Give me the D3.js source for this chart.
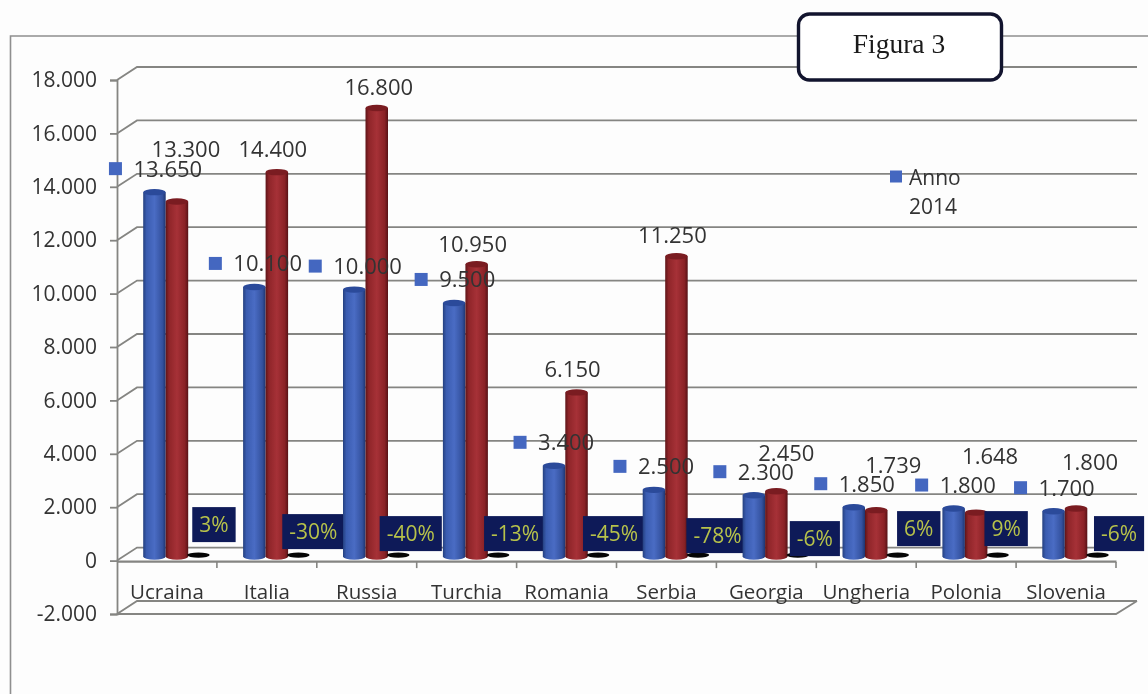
<!DOCTYPE html>
<html><head><meta charset="utf-8">
<script src="https://cdn.jsdelivr.net/npm/d3@7"></script>
<style>
html,body{margin:0;padding:0;background:#fdfdfd;overflow:hidden}
svg{display:block;filter:blur(0.5px)}
</style></head><body>
<script>
// ---- data ----
const categories = ["Ucraina","Italia","Russia","Turchia","Romania","Serbia","Georgia","Ungheria","Polonia","Slovenia"];
const anno2014 = [13650,10100,10000,9500,3400,2500,2300,1850,1800,1700];
const anno2013 = [13300,14400,16800,10950,6150,11250,2450,1739,1648,1800];
const variazione = [3,-30,-40,-13,-45,-78,-6,6,9,-6];
const yTicks = [-2000,0,2000,4000,6000,8000,10000,12000,14000,16000,18000];

// ---- label placement (offsets from the marks) ----
const blueDx = [-39,-39,-39,-33,-34,-34,-34,-33,-32,-33];
const redDx = [9,-4,2,-4,-4,-4,10,17,14,14];
const redDy = [-52,-23,-21,-20,-23,-21,-38,-45,-57,-46];
const boxDx = [14.5,14,11.5,16,15,18.5,16,20,7.5,20.5];
const boxDy = [-36,-29,-27,-27,-27,-25,-22,-32,-32,-27];

const W=1148,H=694, depthX=20, depthY=-13, grid="#858582", ink="#333333";
const font="'Open Sans',sans-serif";
const fmt = v => (v<0?"-":"")+d3.format(",")(Math.abs(v)).replace(/,/g,".");

const svg=d3.select("body").append("svg").attr("width",W).attr("height",H);
const defs=svg.append("defs");
function grad(id,stops){
  const g=defs.append("linearGradient").attr("id",id);
  stops.forEach(([o,c])=>g.append("stop").attr("offset",o).attr("stop-color",c));
}
grad("gBlue",[[0,"#24407f"],[.15,"#3a5cb0"],[.5,"#4a6cc4"],[.85,"#34529f"],[1,"#1f3570"]]);
grad("gRed",[[0,"#5e1418"],[.15,"#8f2529"],[.5,"#a63137"],[.85,"#8a2226"],[1,"#571216"]]);

svg.append("rect").attr("width",W).attr("height",H).attr("fill","#fdfdfd");

// outer frame
svg.append("path").attr("d",`M10.5,${H} V36 H${W}`).attr("fill","none").attr("stroke","#8f8f8f").attr("stroke-width",1.6);

// scales
const y=d3.scaleLinear().domain([-2000,18000]).range([614,80]);
const x=d3.scaleBand().domain(categories).range([117,1116]);
const xOff=16.2;
const inner=d3.scaleBand().domain(["a","b","c"]).range([10,77.5]);
const barBase=-4;
const bw=inner.bandwidth();
const yTop=v=>y(v)+barBase;
const cx=(c,s)=>x(c)+xOff+inner(s)+bw/2;

// walls / gridlines
const axisLeft=x.range()[0], axisRight=x.range()[1];
const g=svg.append("g").attr("fill","none").attr("stroke",grid);
g.selectAll("path.grid").data(yTicks).join("path").attr("class","grid")
  .attr("stroke-width",1.8)
  .attr("d",v=>`M${axisLeft},${y(v)} L${axisLeft+depthX},${y(v)+depthY} H${axisRight+depthX+1}`);
// floor
g.append("path").attr("stroke-width",1.8)
  .attr("d",`M${axisLeft},${y(-2000)} H${axisRight} L${axisRight+depthX+1},${y(-2000)+depthY}`);
// y axis
const ya=d3.axisLeft(y).tickValues(yTicks).tickFormat(fmt).tickSize(7).tickPadding(13);
const yg=svg.append("g").attr("transform",`translate(${axisLeft},0)`).call(ya);
yg.select(".domain").attr("stroke",grid).attr("stroke-width",1.8);
yg.selectAll("line").attr("stroke",grid).attr("stroke-width",1.8);
yg.selectAll("text").attr("font-family",font).attr("font-size",21).attr("fill",ink);
// x zero axis
const xa=d3.axisBottom(x).tickValues(categories).tickFormat("").tickSize(0);
const xg=svg.append("g").attr("transform",`translate(0,${y(0)+0.5})`).call(xa);
xg.select(".domain").attr("stroke",grid).attr("stroke-width",2.2);
const tickX=[...categories.map(c=>x(c)+x.bandwidth())];
xg.selectAll("line.t").data(tickX).join("line").attr("class","t")
  .attr("x1",d=>d).attr("x2",d=>d).attr("y1",1).attr("y2",7).attr("stroke",grid).attr("stroke-width",1.6);
svg.append("g").selectAll("text").data(categories).join("text")
  .attr("x",c=>x(c)+x.bandwidth()/2).attr("y",599)
  .attr("text-anchor","middle").attr("font-family",font).attr("font-size",20.5).attr("fill",ink).text(c=>c);

// cylinders
function cylinder(sel,c,s,v,fill,cap){
  const X=cx(c,s), T=yTop(v), B=y(0)+barBase, rx=bw/2, ry=3.2;
  sel.append("path").attr("fill",fill)
    .attr("d",`M${X-rx},${T} V${B} A${rx},${ry} 0 0 0 ${X+rx},${B} V${T} Z`);
  sel.append("ellipse").attr("cx",X).attr("cy",T).attr("rx",rx).attr("ry",ry).attr("fill",cap);
}
const bars=svg.append("g");
categories.forEach((c,i)=>{
  const cat=bars.append("g");
  cylinder(cat,c,"a",anno2014[i],"url(#gBlue)","#2b4a9a");
  cylinder(cat,c,"b",anno2013[i],"url(#gRed)","#7a1c21");
  // third series: percentage, practically flat on the chart's scale
  cat.append("ellipse").attr("cx",cx(c,"c")-1).attr("cy",yTop(Math.abs(variazione[i])/100)-1.5)
    .attr("rx",bw/2).attr("ry",2.6).attr("fill","#050505");
  // percentage label box
  const bx=cx(c,"c")+boxDx[i], by=y(0)+boxDy[i];
  const rect=cat.append("rect").attr("fill","#0e1a58");
  const t=cat.append("text").attr("x",bx).attr("y",by).attr("dy","0.36em").attr("text-anchor","middle")
    .attr("font-family",font).attr("font-size",21).attr("fill","#b7c24a").text(variazione[i]+"%");
  const len=t.node().getComputedTextLength()+14;
  rect.attr("x",bx-len/2).attr("width",len).attr("y",by-17.5).attr("height",35);
});

// value labels
const labels=svg.append("g").attr("font-family",font).attr("fill",ink);
categories.forEach((c,i)=>{
  const mx=cx(c,"a")+blueDx[i], my=yTop(anno2014[i])-23.5;
  labels.append("rect").attr("x",mx-6.5).attr("y",my-6.5).attr("width",13).attr("height",13).attr("fill","#4467c0");
  labels.append("text").attr("x",mx+18).attr("y",my).attr("dy","0.36em").attr("font-size",22).text(fmt(anno2014[i]));
  labels.append("text").attr("x",cx(c,"b")+redDx[i]).attr("y",yTop(anno2013[i])+redDy[i]).attr("dy","0.36em")
    .attr("text-anchor","middle").attr("font-size",22).text(fmt(anno2013[i]));
});

// legend
const legend=svg.append("g").attr("font-family",font).attr("fill",ink).attr("font-size",21);
legend.append("rect").attr("x",890).attr("y",170.5).attr("width",12).attr("height",12).attr("fill","#4467c0");
legend.append("text").attr("x",909).attr("y",177).attr("dy","0.36em").text("Anno");
legend.append("text").attr("x",909).attr("y",206).attr("dy","0.36em").text("2014");

// title box
svg.append("rect").attr("x",798.5).attr("y",14).attr("width",203).attr("height",66).attr("rx",11)
  .attr("fill","#fff").attr("stroke","#12142e").attr("stroke-width",3.4);
svg.append("text").attr("x",899).attr("y",44).attr("dy","0.34em").attr("text-anchor","middle")
  .attr("font-family","'Liberation Serif',serif").attr("font-size",27.5).attr("fill","#1a1a1a").text("Figura 3");
</script>
</body></html>
